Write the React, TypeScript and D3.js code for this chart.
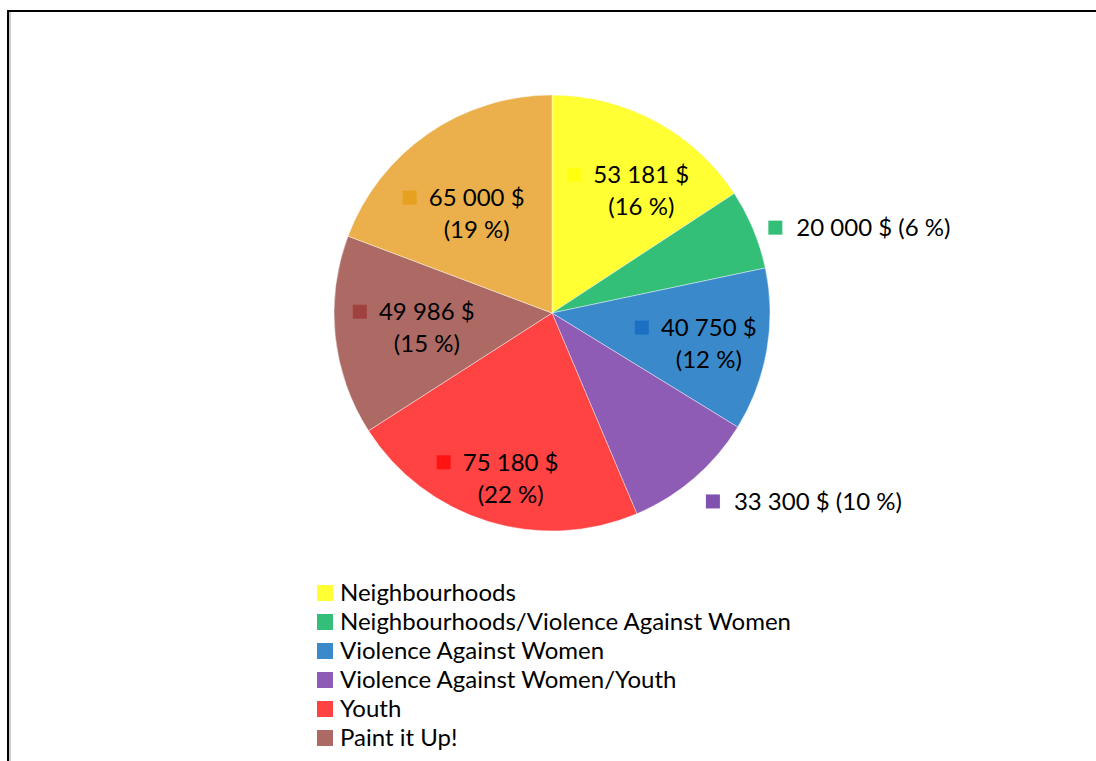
import React from 'react';
import * as d3 from 'd3';

const categories = [
  'Neighbourhoods',
  'Neighbourhoods/Violence Against Women',
  'Violence Against Women',
  'Violence Against Women/Youth',
  'Youth',
  'Paint it Up!',
  'Other',
];
const amounts = [53181, 20000, 40750, 33300, 75180, 49986, 65000];
const percentLabels = ['16 %', '6 %', '12 %', '10 %', '22 %', '15 %', '19 %'];
const amountLabels = ['53 181 $', '20 000 $', '40 750 $', '33 300 $', '75 180 $', '49 986 $', '65 000 $'];

const sliceColors = ['#FFFF33', '#33BF77', '#3A8ACB', '#8E5CB4', '#FF4242', '#AD6A64', '#EBB04C'];
const keyColors = ['#FFFF10', '#33BF77', '#1C70C4', '#8052B0', '#FF1414', '#A0403F', '#E8A020'];

// small slices get their label outside, on one line
const outside = [false, true, false, true, false, false, false];
// hand nudges so labels sit where the original put them
const nudges: [number, number][] = [[4, 10], [4, 3], [-5, 5], [4, 14], [-11, 22], [10, -1], [-4, 24]];

const W = 1096;
const H = 761;
const cx = 552;
const cy = 313;
const radius = 218;
const font = 'Lato, "Open Sans", sans-serif';
const fontSize = 24;

export default function App() {
  const pie = d3.pie<number>().sort(null).value((d) => d);
  const arcs = pie(amounts);
  const arc = d3.arc<d3.PieArcDatum<number>>().innerRadius(0).outerRadius(radius);
  const labelArc = d3.arc<d3.PieArcDatum<number>>().innerRadius(150).outerRadius(150);
  const outerArc = d3.arc<d3.PieArcDatum<number>>().innerRadius(230).outerRadius(230);

  const legendY = d3.scaleLinear().domain([0, 1]).range([593, 622]);
  const legendRows = categories.map((c, i) => ({ c, i })).filter(({ i }) => legendY(i) + 10 < H);

  return (
    <svg width={W} height={H} style={{ position: 'absolute', left: 0, top: 0 }} fontFamily={font}>
      <rect x={0} y={0} width={W} height={H} fill="#fff" />
      <line x1={8} y1={10} x2={8} y2={H} stroke="#000" strokeWidth={2} />
      <line x1={7} y1={11} x2={W} y2={11} stroke="#000" strokeWidth={2} />
      <line x1={10} y1={12} x2={10} y2={H} stroke="#999" strokeWidth={1} />

      <g transform={`translate(${cx},${cy})`}>
        {arcs.map((a, i) => (
          <path key={i} d={arc(a) || ''} fill={sliceColors[i]} stroke="#fff" strokeWidth={0.6} strokeOpacity={0.7} />
        ))}
        {arcs.map((a, i) => {
          if (outside[i]) {
            const [px, py] = outerArc.centroid(a);
            const x = px + nudges[i][0];
            const y = py + nudges[i][1];
            return (
              <g key={'l' + i}>
                <rect x={x} y={y - 7} width={14} height={14} fill={keyColors[i]} />
                <text x={x + 28} y={y} dy="0.35em" fontSize={fontSize} fill="#000">
                  {`${amountLabels[i]} (${percentLabels[i]})`}
                </text>
              </g>
            );
          }
          const [px, py] = labelArc.centroid(a);
          const bx = px + nudges[i][0];
          const by = py + nudges[i][1];
          const tx = bx + 14;
          return (
            <g key={'l' + i}>
              <text x={tx} y={by - 16} dy="0.35em" fontSize={fontSize} textAnchor="middle" fill="#000">
                {amountLabels[i]}
              </text>
              <text x={tx} y={by + 16} dy="0.35em" fontSize={fontSize} textAnchor="middle" fill="#000">
                {`(${percentLabels[i]})`}
              </text>
              <rect x={tx - 74} y={by - 16 - 7} width={14} height={14} fill={keyColors[i]} />
            </g>
          );
        })}
      </g>

      <g>
        {legendRows.map(({ c, i }) => (
          <g key={c} transform={`translate(317,${legendY(i)})`}>
            <rect x={0} y={-8} width={16} height={16} fill={sliceColors[i]} />
            <text x={23} y={0} dy="0.35em" fontSize={fontSize} fill="#000">
              {c}
            </text>
          </g>
        ))}
      </g>
    </svg>
  );
}
